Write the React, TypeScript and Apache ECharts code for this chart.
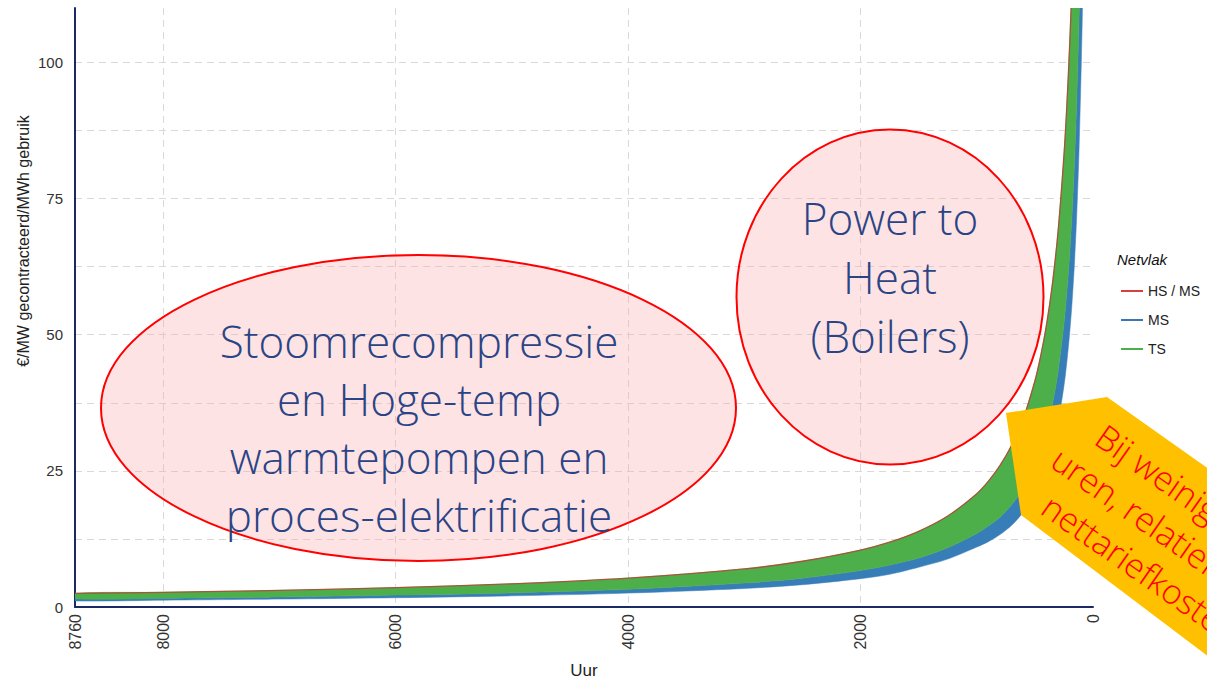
import React, { useEffect, useRef } from 'react';
import * as echarts from 'echarts';

// Hours of use (x) and tariff cost per level (y)
const hours = [8760, 8000, 7000, 6000, 5000, 4000, 3000, 2500, 2000, 1750, 1500, 1250, 1000, 900, 800, 700, 600, 500, 450, 400, 350, 300, 250, 225, 200, 180, 160, 140, 120, 100, 90];
const hsMs = [2.5, 2.7, 3.05, 3.55, 4.25, 5.3, 7.0, 8.4, 10.45, 11.9, 13.9, 16.7, 20.8, 23.1, 26.0, 29.7, 34.6, 41.5, 46.1, 51.8, 59.2, 69.1, 82.9, 92.1, 103.6, 115, 129.5, 148, 172.6, 207, 230];
const ts = [1.5, 1.6, 1.85, 2.2, 2.6, 3.25, 4.4, 5.3, 6.7, 7.7, 9.0, 10.9, 13.5, 14.9, 16.5, 18.8, 21.8, 26.0, 28.9, 32.5, 37.1, 43.3, 52.0, 57.8, 65.0, 72.2, 81.3, 92.9, 108.3, 130, 144];
const ms = [1.1, 1.25, 1.45, 1.7, 2.05, 2.55, 3.4, 4.1, 5.2, 6.0, 7.3, 8.8, 11.0, 12.0, 13.3, 15.0, 17.4, 20.6, 22.8, 25.6, 29.2, 34.0, 40.6, 45.0, 50.5, 56.0, 63.0, 72.0, 84.0, 100.5, 112];

const legendNames = ['HS / MS', 'MS', 'TS'];
const legendColors = ['#d7413c', '#3b78b3', '#4daf4a'];
const yTickLabels = [0, 25, 50, 75, 100];

const ellipse1Lines = ['Stoomrecompressie', 'en Hoge-temp', 'warmtepompen en', 'proces-elektrificatie'];
const ellipse2Lines = ['Power to', 'Heat', '(Boilers)'];
const arrowLines = ['Bij weinig', 'uren, relatief', 'nettariefkosten'];

const BLUE = '#377eb8';
const GREEN = '#4daf4a';
const NAVY = '#1b2a63';
const TEXT_BLUE = '#2a4486';
const GRID = '#d9d9d9';
const SMOOTH = 0.3;

function clipOf(params: any) {
  const cs = params.coordSys;
  return { type: 'rect', shape: { x: cs.x, y: cs.y, width: cs.width, height: cs.height } };
}

function bandSeries(name: string, low: number[], high: number[], color: string) {
  return {
    type: 'custom',
    name,
    silent: true,
    z: 2,
    data: [[hours[0], low[0]]],
    itemStyle: { color },
    renderItem: (params: any, api: any) => {
      const pts: number[][] = [];
      for (let i = 0; i < hours.length; i++) pts.push(api.coord([hours[i], high[i]]));
      for (let i = hours.length - 1; i >= 0; i--) pts.push(api.coord([hours[i], low[i]]));
      return {
        type: 'group',
        clipPath: clipOf(params),
        children: [
          {
            type: 'polygon',
            shape: { points: pts, smooth: SMOOTH },
            style: { fill: color, stroke: color, lineWidth: 0.5 },
          },
        ],
      };
    },
  };
}

function lineSeries(name: string, values: number[], color: string) {
  return {
    type: 'custom',
    name,
    silent: true,
    z: 3,
    data: [[hours[0], values[0]]],
    itemStyle: { color },
    renderItem: (params: any, api: any) => {
      const pts = hours.map((h, i) => api.coord([h, values[i]]));
      return {
        type: 'group',
        clipPath: clipOf(params),
        children: [
          {
            type: 'polyline',
            shape: { points: pts, smooth: SMOOTH },
            style: { fill: 'none', stroke: color, lineWidth: 1.3 },
          },
        ],
      };
    },
  };
}

export default function App() {
  const ref = useRef<HTMLDivElement>(null);

  useEffect(() => {
    if (!ref.current) return;
    const chart = echarts.init(ref.current, undefined, { renderer: 'svg' });

    const option: any = {
      animation: false,
      backgroundColor: '#ffffff',
      grid: { left: 75, top: 8, width: 1018, height: 599, containLabel: false },
      legend: {
        orient: 'vertical',
        left: 1116,
        top: 279,
        icon: 'rect',
        itemWidth: 22,
        itemHeight: 2,
        itemGap: 15,
        textStyle: { fontFamily: 'Liberation Sans, Arial, sans-serif', fontSize: 14, color: '#222' },
        data: legendNames.map((n, i) => ({ name: n, itemStyle: { color: legendColors[i] } })),
        selectedMode: false,
      },
      xAxis: {
        type: 'value',
        inverse: true,
        min: 0,
        max: 8760,
        interval: 2000,
        axisLine: { show: true, onZero: false, lineStyle: { color: NAVY, width: 2 } },
        axisTick: { show: false },
        axisLabel: {
          rotate: 90,
          margin: 7,
          fontFamily: 'Liberation Sans, Arial, sans-serif',
          fontSize: 16,
          color: '#333',
          formatter: (v: number) => String(v),
        },
        splitLine: {
          show: true,
          showMinLine: false,
          showMaxLine: false,
          lineStyle: { color: GRID, type: [7, 5], width: 1 },
        },
      },
      yAxis: {
        type: 'value',
        position: 'left',
        min: 0,
        max: 110,
        interval: 12.5,
        axisLine: { show: true, onZero: false, lineStyle: { color: NAVY, width: 2 } },
        axisTick: { show: false },
        axisLabel: {
          margin: 12,
          fontFamily: 'Liberation Sans, Arial, sans-serif',
          fontSize: 15,
          color: '#333',
          formatter: (v: number) => (yTickLabels.includes(v) ? String(v) : ''),
        },
        splitLine: {
          show: true,
          showMinLine: false,
          showMaxLine: false,
          lineStyle: { color: GRID, type: [7, 5], width: 1 },
        },
      },
      series: [
        bandSeries('MS', ms, ts, BLUE),
        bandSeries('TS', ts, hsMs, GREEN),
        lineSeries('HS / MS', hsMs, '#a5553a'),
      ],
      graphic: [
        {
          type: 'text',
          x: 23,
          y: 241,
          rotation: Math.PI / 2,
          style: {
            text: '€/MW gecontracteerd/MWh gebruik',
            fontFamily: 'Liberation Sans, Arial, sans-serif',
            fontSize: 16,
            fill: '#222',
            align: 'center',
            verticalAlign: 'middle',
          },
        },
        {
          type: 'text',
          x: 584,
          y: 670,
          style: {
            text: 'Uur',
            fontFamily: 'Liberation Sans, Arial, sans-serif',
            fontSize: 17,
            fill: '#222',
            align: 'center',
            verticalAlign: 'middle',
          },
        },
        {
          type: 'text',
          x: 1117,
          y: 259,
          style: {
            text: 'Netvlak',
            fontFamily: 'Liberation Sans, Arial, sans-serif',
            fontSize: 15,
            fontStyle: 'italic',
            fill: '#111',
            align: 'left',
            verticalAlign: 'middle',
          },
        },
        {
          type: 'ellipse',
          z: 20,
          shape: { cx: 418.5, cy: 408, rx: 317.5, ry: 153 },
          style: { fill: 'rgba(250, 170, 170, 0.33)', stroke: '#ff0000', lineWidth: 2 },
        },
        {
          type: 'text',
          z: 21,
          x: 419,
          y: 428,
          style: {
            text: ellipse1Lines.join('\n'),
            fontFamily: "'Open Sans', 'Noto Sans', sans-serif",
            fontWeight: 300,
            fontSize: 44,
            lineHeight: 58,
            fill: TEXT_BLUE,
            align: 'center',
            verticalAlign: 'middle',
          },
        },
        {
          type: 'ellipse',
          z: 20,
          shape: { cx: 890, cy: 297, rx: 153.5, ry: 167.5 },
          style: { fill: 'rgba(250, 170, 170, 0.33)', stroke: '#ff0000', lineWidth: 2 },
        },
        {
          type: 'text',
          z: 21,
          x: 890,
          y: 277,
          style: {
            text: ellipse2Lines.join('\n'),
            fontFamily: "'Open Sans', 'Noto Sans', sans-serif",
            fontWeight: 300,
            fontSize: 44,
            lineHeight: 59,
            fill: TEXT_BLUE,
            align: 'center',
            verticalAlign: 'middle',
          },
        },
        {
          type: 'polygon',
          z: 30,
          shape: {
            points: [
              [1006, 413],
              [1107, 397],
              [1330, 555],
              [1250, 688],
              [1021, 515],
            ],
          },
          style: { fill: '#ffc000' },
        },
        {
          type: 'group',
          z: 31,
          x: 1006,
          y: 413,
          rotation: -0.61,
          children: arrowLines.map((t, i) => ({
            type: 'text',
            z: 31,
            x: [88, 65, 84][i],
            y: -38 + i * 44,
            style: {
              text: t,
              fontFamily: "'Open Sans', 'Noto Sans', sans-serif",
              fontWeight: 300,
              fontSize: 34,
              fill: '#ff0000',
              align: 'left',
              verticalAlign: 'middle',
            },
          })),
        },
      ],
    };

    chart.setOption(option);
    return () => chart.dispose();
  }, []);

  return (
    <div
      ref={ref}
      style={{ position: 'fixed', left: 0, top: 0, width: 1207, height: 680, background: '#fff' }}
    />
  );
}
